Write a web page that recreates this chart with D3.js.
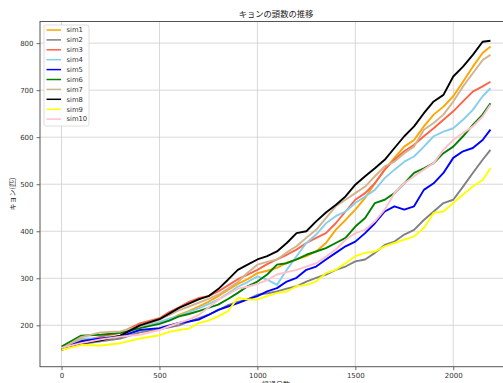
<!DOCTYPE html>
<html>
<head>
<meta charset="utf-8">
<script src="https://cdn.jsdelivr.net/npm/d3@7"></script>
<style>
  html, body { margin: 0; padding: 0; background: #fff; overflow: hidden; }
  svg { display: block; font-family: "Noto Sans CJK JP", "DejaVu Sans", sans-serif; }
</style>
</head>
<body>
<svg id="chart" width="503" height="383"></svg>
<script>
// Elapsed days at which each simulation is sampled
const days = [0, 100, 200, 300, 400, 500, 550, 600, 650, 700, 750, 800, 850, 900, 950,
              1000, 1050, 1100, 1150, 1200, 1250, 1300, 1350, 1400, 1450, 1500, 1550,
              1600, 1650, 1700, 1750, 1800, 1850, 1900, 1950, 2000, 2050, 2100, 2150, 2190];

// Population of each simulation run
const sim1  = [150, 170, 172, 178, 196, 205, 212, 222, 230, 240, 250, 262, 275, 288, 298,
               311, 316, 322, 333, 340, 347, 357, 375, 403, 424, 446, 471,
               502, 531, 556, 580, 594, 623, 648, 665, 687, 718, 750, 779, 793];
const sim2  = [150, 160, 166, 172, 185, 192, 196, 200, 208, 215, 222, 232, 243, 250, 255,
               265, 268, 272, 278, 283, 293, 301, 308, 318, 325, 336, 340,
               354, 371, 378, 393, 403, 424, 442, 460, 467, 495, 524, 552, 573];
const sim3  = [150, 165, 176, 184, 204, 215, 228, 238, 250, 258, 262, 272, 285, 298, 308,
               318, 330, 340, 350, 361, 375, 386, 396, 417, 442, 467, 481,
               502, 531, 552, 570, 584, 602, 619, 637, 655, 676, 697, 708, 718];
const sim4  = [152, 172, 172, 178, 195, 207, 214, 220, 228, 236, 245, 255, 268, 282, 292,
               304, 297, 286, 318, 347, 375, 393, 417, 432, 442, 460, 474,
               488, 513, 531, 548, 559, 580, 602, 612, 619, 637, 658, 687, 704];
const sim5  = [150, 166, 172, 176, 190, 194, 200, 205, 208, 212, 222, 233, 240, 247, 255,
               262, 272, 279, 293, 301, 318, 325, 340, 354, 368, 378, 396,
               417, 442, 453, 446, 453, 488, 502, 524, 556, 570, 577, 594, 616];
const sim6  = [155, 178, 180, 184, 194, 203, 210, 219, 224, 230, 237, 244, 256, 269, 283,
               293, 308, 329, 332, 340, 350, 357, 364, 375, 386, 410, 428,
               460, 467, 481, 502, 524, 534, 545, 566, 580, 602, 626, 648, 672];
const sim7  = [150, 175, 185, 187, 198, 212, 222, 232, 240, 248, 256, 265, 278, 292, 312,
               329, 335, 340, 355, 368, 386, 403, 428, 453, 467, 481, 495,
               517, 538, 548, 566, 580, 616, 630, 648, 676, 708, 736, 764, 775];
const sim8  = [148, 162, 168, 178, 200, 213, 225, 237, 246, 255, 262, 277, 297, 318, 329,
               340, 347, 357, 375, 396, 400, 421, 440, 456, 474, 499, 517,
               534, 552, 577, 602, 623, 651, 676, 690, 729, 750, 775, 803, 805];
const sim9  = [148, 158, 157, 162, 172, 179, 186, 190, 193, 205, 210, 219, 230, 258, 255,
               255, 262, 269, 272, 283, 286, 293, 311, 318, 332, 347, 354,
               357, 368, 375, 382, 389, 407, 439, 442, 460, 478, 495, 509, 534];
const sim10 = [152, 162, 170, 176, 180, 190, 198, 205, 212, 222, 238, 254, 266, 278, 282,
               288, 296, 308, 313, 318, 325, 332, 346, 361, 382, 396, 403,
               421, 446, 481, 502, 517, 531, 545, 573, 594, 609, 623, 644, 669];

const seriesNames = ["sim1", "sim2", "sim3", "sim4", "sim5", "sim6", "sim7", "sim8", "sim9", "sim10"];
const seriesValues = [sim1, sim2, sim3, sim4, sim5, sim6, sim7, sim8, sim9, sim10];
const seriesColors = ["orange", "gray", "tomato", "skyblue", "blue", "green", "tan", "black", "yellow", "pink"];

const xTicks = [0, 500, 1000, 1500, 2000];
const yTicks = [200, 300, 400, 500, 600, 700, 800];

const titleText = "キョンの頭数の推移";
const xLabel = "経過日数";
const yLabel = "キョン(匹)";

const svg = d3.select("#chart");

// Axes box (right edge extends past the canvas)
const plot = { left: 40, right: 512, top: 21.5, bottom: 366.7 };

const x = d3.scaleLinear().domain([-110, 2300]).range([plot.left, plot.right]);
const y = d3.scaleLinear().domain([112, 846]).range([plot.bottom, plot.top]);

// Grid
const grid = svg.append("g").attr("stroke", "#cfcfcf").attr("stroke-width", 0.8);
grid.selectAll("line.v").data(xTicks).join("line")
  .attr("x1", d => x(d)).attr("x2", d => x(d))
  .attr("y1", plot.top).attr("y2", plot.bottom);
grid.selectAll("line.h").data(yTicks).join("line")
  .attr("x1", plot.left).attr("x2", plot.right)
  .attr("y1", d => y(d)).attr("y2", d => y(d));

// Series lines
const line = d3.line()
  .x((d, i) => x(days[i]))
  .y(d => y(d));

svg.append("g").selectAll("path").data(seriesValues).join("path")
  .attr("d", d => line(d))
  .attr("fill", "none")
  .attr("stroke", (d, i) => seriesColors[i])
  .attr("stroke-width", 1.9)
  .attr("stroke-linejoin", "round");

// Axes
const xAxis = svg.append("g")
  .attr("transform", `translate(0,${plot.bottom})`)
  .call(d3.axisBottom(x).tickValues(xTicks).tickSize(3.5).tickPadding(3).tickFormat(d3.format("d")));
const yAxis = svg.append("g")
  .attr("transform", `translate(${plot.left},0)`)
  .call(d3.axisLeft(y).tickValues(yTicks).tickSize(3.5).tickPadding(3).tickFormat(d3.format("d")));

[xAxis, yAxis].forEach(g => {
  g.select(".domain").remove();
  g.selectAll(".tick line").attr("stroke", "#444").attr("stroke-width", 0.8);
  g.selectAll(".tick text").attr("fill", "#333").attr("font-size", 7)
    .attr("font-family", "'DejaVu Sans', sans-serif");
});

// Spines
svg.append("rect")
  .attr("x", plot.left).attr("y", plot.top)
  .attr("width", plot.right - plot.left).attr("height", plot.bottom - plot.top)
  .attr("fill", "none").attr("stroke", "#555").attr("stroke-width", 1);

// Title and axis labels
svg.append("text")
  .attr("x", (plot.left + plot.right) / 2).attr("y", 16.5)
  .attr("text-anchor", "middle").attr("font-size", 8.3).attr("fill", "#222")
  .text(titleText);

svg.append("text")
  .attr("x", (plot.left + plot.right) / 2).attr("y", 387)
  .attr("text-anchor", "middle").attr("font-size", 7).attr("fill", "#222")
  .text(xLabel);

svg.append("text")
  .attr("transform", `translate(15,${(plot.top + plot.bottom) / 2}) rotate(-90)`)
  .attr("text-anchor", "middle").attr("font-size", 7).attr("fill", "#222")
  .text(yLabel);

// Legend
const legend = svg.append("g").attr("transform", "translate(44,25)");
legend.append("rect")
  .attr("width", 45).attr("height", 101).attr("rx", 2)
  .attr("fill", "#fff").attr("fill-opacity", 0.85)
  .attr("stroke", "#d6d6d6").attr("stroke-width", 0.8);

const items = legend.selectAll("g.item").data(seriesNames).join("g")
  .attr("class", "item")
  .attr("transform", (d, i) => `translate(0,${5 + i * 9.9})`);
items.append("line")
  .attr("x1", 2.5).attr("x2", 17)
  .attr("stroke", (d, i) => seriesColors[i]).attr("stroke-width", 1.5);
items.append("text")
  .attr("x", 22.5).attr("dy", "0.35em")
  .attr("font-size", 6.8).attr("fill", "#333")
  .attr("font-family", "'DejaVu Sans', sans-serif")
  .text(d => d);
</script>
</body>
</html>
